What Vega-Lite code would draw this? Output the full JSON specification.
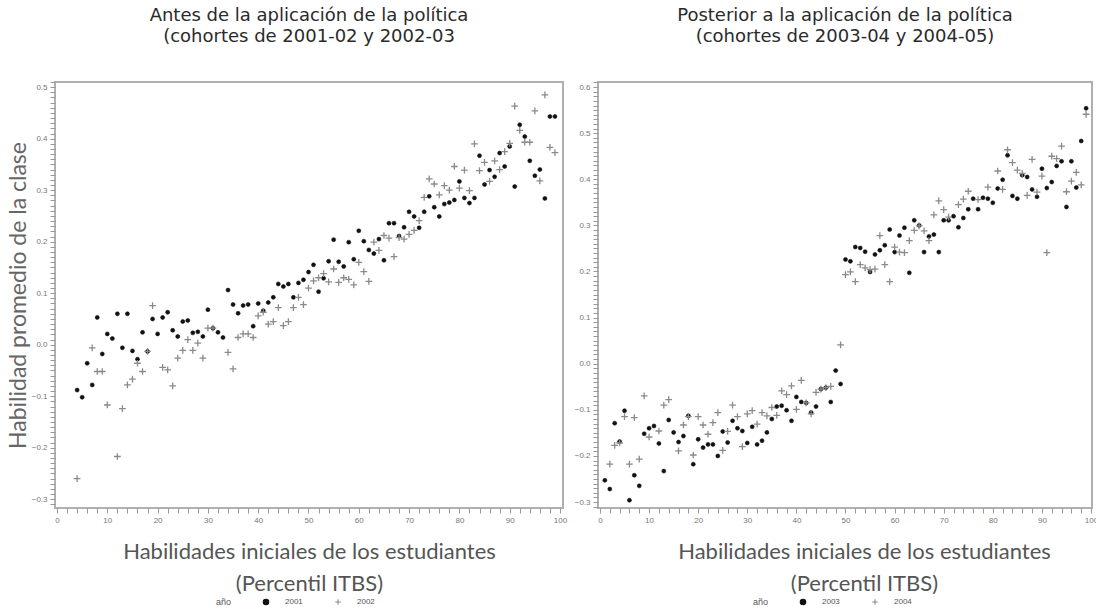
{
  "$schema": "https://vega.github.io/schema/vega-lite/v6.json",
  "background": "white",
  "padding": {"left": 6, "right": 2, "top": 6, "bottom": 0},
  "spacing": 5,
  "config": {
    "view": {"stroke": "#b0b0b0", "strokeWidth": 2},
    "axis": {
      "domain": false, "grid": false,
      "tickColor": "#999", "tickSize": 5, "tickWidth": 1,
      "labelFont": "Liberation Sans", "labelFontSize": 8, "labelColor": "#777",
      "labelPadding": 3, "labelOverlap": false, "labelFlush": false, "labelBound": false,
      "titleFont": "Lato", "titleFontWeight": "normal", "titleColor": "#555"
    },
    "legend": {
      "labelFont": "Liberation Sans", "labelFontSize": 8, "labelColor": "#555",
      "titleFont": "Liberation Sans", "titleFontSize": 9, "titleFontWeight": "normal", "titleColor": "#555"
    },
    "title": {"font": "DejaVu Sans", "fontSize": 18, "fontWeight": "normal", "color": "#2a2a2a", "lineHeight": 21, "offset": 32}
  },
  "datasets": {
    "antes": [
      {"pct":4,"hab":-0.088,"anio":"2001"},{"pct":5,"hab":-0.102,"anio":"2001"},{"pct":6,"hab":-0.036,"anio":"2001"},{"pct":7,"hab":-0.078,"anio":"2001"},{"pct":8,"hab":0.053,"anio":"2001"},{"pct":9,"hab":-0.018,"anio":"2001"},{"pct":10,"hab":0.021,"anio":"2001"},{"pct":11,"hab":0.012,"anio":"2001"},{"pct":12,"hab":0.060,"anio":"2001"},{"pct":13,"hab":-0.006,"anio":"2001"},{"pct":14,"hab":0.060,"anio":"2001"},{"pct":15,"hab":-0.012,"anio":"2001"},{"pct":16,"hab":-0.028,"anio":"2001"},{"pct":17,"hab":0.024,"anio":"2001"},{"pct":18,"hab":-0.013,"anio":"2001"},{"pct":19,"hab":0.050,"anio":"2001"},{"pct":20,"hab":0.021,"anio":"2001"},{"pct":21,"hab":0.053,"anio":"2001"},{"pct":22,"hab":0.063,"anio":"2001"},{"pct":23,"hab":0.028,"anio":"2001"},{"pct":24,"hab":0.016,"anio":"2001"},{"pct":25,"hab":0.045,"anio":"2001"},{"pct":26,"hab":0.047,"anio":"2001"},{"pct":27,"hab":0.023,"anio":"2001"},{"pct":28,"hab":0.025,"anio":"2001"},{"pct":29,"hab":0.016,"anio":"2001"},{"pct":30,"hab":0.068,"anio":"2001"},{"pct":31,"hab":0.032,"anio":"2001"},{"pct":32,"hab":0.024,"anio":"2001"},{"pct":33,"hab":0.014,"anio":"2001"},{"pct":34,"hab":0.106,"anio":"2001"},{"pct":35,"hab":0.078,"anio":"2001"},{"pct":36,"hab":0.061,"anio":"2001"},{"pct":37,"hab":0.076,"anio":"2001"},{"pct":38,"hab":0.078,"anio":"2001"},{"pct":39,"hab":0.036,"anio":"2001"},{"pct":40,"hab":0.080,"anio":"2001"},{"pct":41,"hab":0.066,"anio":"2001"},{"pct":42,"hab":0.082,"anio":"2001"},{"pct":43,"hab":0.092,"anio":"2001"},{"pct":44,"hab":0.118,"anio":"2001"},{"pct":45,"hab":0.113,"anio":"2001"},{"pct":46,"hab":0.118,"anio":"2001"},{"pct":47,"hab":0.092,"anio":"2001"},{"pct":48,"hab":0.120,"anio":"2001"},{"pct":49,"hab":0.126,"anio":"2001"},{"pct":50,"hab":0.141,"anio":"2001"},{"pct":51,"hab":0.155,"anio":"2001"},{"pct":52,"hab":0.103,"anio":"2001"},{"pct":53,"hab":0.129,"anio":"2001"},{"pct":54,"hab":0.162,"anio":"2001"},{"pct":55,"hab":0.204,"anio":"2001"},{"pct":56,"hab":0.161,"anio":"2001"},{"pct":57,"hab":0.152,"anio":"2001"},{"pct":58,"hab":0.199,"anio":"2001"},{"pct":59,"hab":0.166,"anio":"2001"},{"pct":60,"hab":0.221,"anio":"2001"},{"pct":61,"hab":0.201,"anio":"2001"},{"pct":62,"hab":0.184,"anio":"2001"},{"pct":63,"hab":0.177,"anio":"2001"},{"pct":64,"hab":0.205,"anio":"2001"},{"pct":65,"hab":0.164,"anio":"2001"},{"pct":66,"hab":0.236,"anio":"2001"},{"pct":67,"hab":0.236,"anio":"2001"},{"pct":68,"hab":0.211,"anio":"2001"},{"pct":69,"hab":0.228,"anio":"2001"},{"pct":70,"hab":0.258,"anio":"2001"},{"pct":71,"hab":0.249,"anio":"2001"},{"pct":72,"hab":0.227,"anio":"2001"},{"pct":73,"hab":0.258,"anio":"2001"},{"pct":74,"hab":0.288,"anio":"2001"},{"pct":75,"hab":0.267,"anio":"2001"},{"pct":76,"hab":0.249,"anio":"2001"},{"pct":77,"hab":0.273,"anio":"2001"},{"pct":78,"hab":0.276,"anio":"2001"},{"pct":79,"hab":0.281,"anio":"2001"},{"pct":80,"hab":0.317,"anio":"2001"},{"pct":81,"hab":0.285,"anio":"2001"},{"pct":82,"hab":0.275,"anio":"2001"},{"pct":83,"hab":0.285,"anio":"2001"},{"pct":84,"hab":0.367,"anio":"2001"},{"pct":85,"hab":0.311,"anio":"2001"},{"pct":86,"hab":0.339,"anio":"2001"},{"pct":87,"hab":0.326,"anio":"2001"},{"pct":88,"hab":0.372,"anio":"2001"},{"pct":89,"hab":0.346,"anio":"2001"},{"pct":90,"hab":0.385,"anio":"2001"},{"pct":91,"hab":0.307,"anio":"2001"},{"pct":92,"hab":0.427,"anio":"2001"},{"pct":93,"hab":0.404,"anio":"2001"},{"pct":94,"hab":0.357,"anio":"2001"},{"pct":95,"hab":0.328,"anio":"2001"},{"pct":96,"hab":0.340,"anio":"2001"},{"pct":97,"hab":0.284,"anio":"2001"},{"pct":98,"hab":0.443,"anio":"2001"},{"pct":99,"hab":0.443,"anio":"2001"},
      {"pct":4,"hab":-0.260,"anio":"2002"},{"pct":7,"hab":-0.006,"anio":"2002"},{"pct":8,"hab":-0.052,"anio":"2002"},{"pct":9,"hab":-0.052,"anio":"2002"},{"pct":10,"hab":-0.117,"anio":"2002"},{"pct":12,"hab":-0.217,"anio":"2002"},{"pct":13,"hab":-0.124,"anio":"2002"},{"pct":14,"hab":-0.078,"anio":"2002"},{"pct":15,"hab":-0.067,"anio":"2002"},{"pct":16,"hab":-0.036,"anio":"2002"},{"pct":17,"hab":-0.052,"anio":"2002"},{"pct":18,"hab":-0.013,"anio":"2002"},{"pct":19,"hab":0.076,"anio":"2002"},{"pct":21,"hab":-0.044,"anio":"2002"},{"pct":22,"hab":-0.049,"anio":"2002"},{"pct":23,"hab":-0.080,"anio":"2002"},{"pct":24,"hab":-0.026,"anio":"2002"},{"pct":25,"hab":-0.011,"anio":"2002"},{"pct":26,"hab":0.010,"anio":"2002"},{"pct":27,"hab":-0.011,"anio":"2002"},{"pct":28,"hab":0.003,"anio":"2002"},{"pct":29,"hab":-0.026,"anio":"2002"},{"pct":30,"hab":0.032,"anio":"2002"},{"pct":31,"hab":0.032,"anio":"2002"},{"pct":34,"hab":-0.015,"anio":"2002"},{"pct":35,"hab":-0.047,"anio":"2002"},{"pct":36,"hab":0.014,"anio":"2002"},{"pct":37,"hab":0.021,"anio":"2002"},{"pct":38,"hab":0.021,"anio":"2002"},{"pct":39,"hab":0.014,"anio":"2002"},{"pct":40,"hab":0.056,"anio":"2002"},{"pct":41,"hab":0.063,"anio":"2002"},{"pct":42,"hab":0.040,"anio":"2002"},{"pct":43,"hab":0.045,"anio":"2002"},{"pct":44,"hab":0.072,"anio":"2002"},{"pct":45,"hab":0.037,"anio":"2002"},{"pct":46,"hab":0.045,"anio":"2002"},{"pct":47,"hab":0.072,"anio":"2002"},{"pct":48,"hab":0.092,"anio":"2002"},{"pct":49,"hab":0.078,"anio":"2002"},{"pct":50,"hab":0.110,"anio":"2002"},{"pct":51,"hab":0.124,"anio":"2002"},{"pct":52,"hab":0.130,"anio":"2002"},{"pct":53,"hab":0.138,"anio":"2002"},{"pct":54,"hab":0.122,"anio":"2002"},{"pct":55,"hab":0.147,"anio":"2002"},{"pct":56,"hab":0.121,"anio":"2002"},{"pct":57,"hab":0.130,"anio":"2002"},{"pct":58,"hab":0.127,"anio":"2002"},{"pct":59,"hab":0.116,"anio":"2002"},{"pct":60,"hab":0.160,"anio":"2002"},{"pct":61,"hab":0.142,"anio":"2002"},{"pct":62,"hab":0.123,"anio":"2002"},{"pct":63,"hab":0.199,"anio":"2002"},{"pct":64,"hab":0.183,"anio":"2002"},{"pct":65,"hab":0.212,"anio":"2002"},{"pct":66,"hab":0.207,"anio":"2002"},{"pct":67,"hab":0.171,"anio":"2002"},{"pct":68,"hab":0.208,"anio":"2002"},{"pct":69,"hab":0.205,"anio":"2002"},{"pct":70,"hab":0.214,"anio":"2002"},{"pct":71,"hab":0.222,"anio":"2002"},{"pct":72,"hab":0.241,"anio":"2002"},{"pct":73,"hab":0.286,"anio":"2002"},{"pct":74,"hab":0.322,"anio":"2002"},{"pct":75,"hab":0.312,"anio":"2002"},{"pct":76,"hab":0.291,"anio":"2002"},{"pct":77,"hab":0.309,"anio":"2002"},{"pct":78,"hab":0.300,"anio":"2002"},{"pct":79,"hab":0.346,"anio":"2002"},{"pct":80,"hab":0.304,"anio":"2002"},{"pct":81,"hab":0.339,"anio":"2002"},{"pct":82,"hab":0.299,"anio":"2002"},{"pct":83,"hab":0.390,"anio":"2002"},{"pct":84,"hab":0.338,"anio":"2002"},{"pct":85,"hab":0.354,"anio":"2002"},{"pct":86,"hab":0.317,"anio":"2002"},{"pct":87,"hab":0.357,"anio":"2002"},{"pct":88,"hab":0.340,"anio":"2002"},{"pct":89,"hab":0.375,"anio":"2002"},{"pct":90,"hab":0.391,"anio":"2002"},{"pct":91,"hab":0.463,"anio":"2002"},{"pct":92,"hab":0.416,"anio":"2002"},{"pct":93,"hab":0.393,"anio":"2002"},{"pct":94,"hab":0.393,"anio":"2002"},{"pct":95,"hab":0.454,"anio":"2002"},{"pct":96,"hab":0.318,"anio":"2002"},{"pct":97,"hab":0.485,"anio":"2002"},{"pct":98,"hab":0.383,"anio":"2002"},{"pct":99,"hab":0.373,"anio":"2002"}
    ],
    "despues": [
      {"pct":1,"hab":-0.253,"anio":"2003"},{"pct":2,"hab":-0.272,"anio":"2003"},{"pct":3,"hab":-0.129,"anio":"2003"},{"pct":4,"hab":-0.169,"anio":"2003"},{"pct":5,"hab":-0.102,"anio":"2003"},{"pct":6,"hab":-0.296,"anio":"2003"},{"pct":7,"hab":-0.242,"anio":"2003"},{"pct":8,"hab":-0.265,"anio":"2003"},{"pct":9,"hab":-0.152,"anio":"2003"},{"pct":10,"hab":-0.140,"anio":"2003"},{"pct":11,"hab":-0.135,"anio":"2003"},{"pct":12,"hab":-0.173,"anio":"2003"},{"pct":13,"hab":-0.233,"anio":"2003"},{"pct":14,"hab":-0.122,"anio":"2003"},{"pct":15,"hab":-0.149,"anio":"2003"},{"pct":16,"hab":-0.170,"anio":"2003"},{"pct":17,"hab":-0.157,"anio":"2003"},{"pct":18,"hab":-0.113,"anio":"2003"},{"pct":19,"hab":-0.218,"anio":"2003"},{"pct":20,"hab":-0.164,"anio":"2003"},{"pct":21,"hab":-0.182,"anio":"2003"},{"pct":22,"hab":-0.175,"anio":"2003"},{"pct":23,"hab":-0.175,"anio":"2003"},{"pct":24,"hab":-0.200,"anio":"2003"},{"pct":25,"hab":-0.147,"anio":"2003"},{"pct":26,"hab":-0.171,"anio":"2003"},{"pct":27,"hab":-0.124,"anio":"2003"},{"pct":28,"hab":-0.140,"anio":"2003"},{"pct":29,"hab":-0.146,"anio":"2003"},{"pct":30,"hab":-0.172,"anio":"2003"},{"pct":31,"hab":-0.137,"anio":"2003"},{"pct":32,"hab":-0.175,"anio":"2003"},{"pct":33,"hab":-0.167,"anio":"2003"},{"pct":34,"hab":-0.149,"anio":"2003"},{"pct":35,"hab":-0.120,"anio":"2003"},{"pct":36,"hab":-0.093,"anio":"2003"},{"pct":37,"hab":-0.091,"anio":"2003"},{"pct":38,"hab":-0.101,"anio":"2003"},{"pct":39,"hab":-0.124,"anio":"2003"},{"pct":40,"hab":-0.072,"anio":"2003"},{"pct":41,"hab":-0.083,"anio":"2003"},{"pct":42,"hab":-0.085,"anio":"2003"},{"pct":43,"hab":-0.106,"anio":"2003"},{"pct":44,"hab":-0.093,"anio":"2003"},{"pct":45,"hab":-0.055,"anio":"2003"},{"pct":46,"hab":-0.052,"anio":"2003"},{"pct":47,"hab":-0.083,"anio":"2003"},{"pct":48,"hab":-0.015,"anio":"2003"},{"pct":49,"hab":-0.044,"anio":"2003"},{"pct":50,"hab":0.226,"anio":"2003"},{"pct":51,"hab":0.222,"anio":"2003"},{"pct":52,"hab":0.253,"anio":"2003"},{"pct":53,"hab":0.251,"anio":"2003"},{"pct":54,"hab":0.243,"anio":"2003"},{"pct":55,"hab":0.199,"anio":"2003"},{"pct":56,"hab":0.237,"anio":"2003"},{"pct":57,"hab":0.246,"anio":"2003"},{"pct":58,"hab":0.257,"anio":"2003"},{"pct":59,"hab":0.291,"anio":"2003"},{"pct":60,"hab":0.242,"anio":"2003"},{"pct":61,"hab":0.278,"anio":"2003"},{"pct":62,"hab":0.295,"anio":"2003"},{"pct":63,"hab":0.197,"anio":"2003"},{"pct":64,"hab":0.311,"anio":"2003"},{"pct":65,"hab":0.300,"anio":"2003"},{"pct":66,"hab":0.242,"anio":"2003"},{"pct":67,"hab":0.276,"anio":"2003"},{"pct":68,"hab":0.280,"anio":"2003"},{"pct":69,"hab":0.242,"anio":"2003"},{"pct":70,"hab":0.311,"anio":"2003"},{"pct":71,"hab":0.311,"anio":"2003"},{"pct":72,"hab":0.320,"anio":"2003"},{"pct":73,"hab":0.296,"anio":"2003"},{"pct":74,"hab":0.316,"anio":"2003"},{"pct":75,"hab":0.335,"anio":"2003"},{"pct":76,"hab":0.358,"anio":"2003"},{"pct":77,"hab":0.335,"anio":"2003"},{"pct":78,"hab":0.360,"anio":"2003"},{"pct":79,"hab":0.358,"anio":"2003"},{"pct":80,"hab":0.349,"anio":"2003"},{"pct":81,"hab":0.380,"anio":"2003"},{"pct":82,"hab":0.399,"anio":"2003"},{"pct":83,"hab":0.452,"anio":"2003"},{"pct":84,"hab":0.364,"anio":"2003"},{"pct":85,"hab":0.358,"anio":"2003"},{"pct":86,"hab":0.409,"anio":"2003"},{"pct":87,"hab":0.405,"anio":"2003"},{"pct":88,"hab":0.378,"anio":"2003"},{"pct":89,"hab":0.362,"anio":"2003"},{"pct":90,"hab":0.423,"anio":"2003"},{"pct":91,"hab":0.381,"anio":"2003"},{"pct":92,"hab":0.394,"anio":"2003"},{"pct":93,"hab":0.429,"anio":"2003"},{"pct":94,"hab":0.439,"anio":"2003"},{"pct":95,"hab":0.340,"anio":"2003"},{"pct":96,"hab":0.439,"anio":"2003"},{"pct":97,"hab":0.382,"anio":"2003"},{"pct":98,"hab":0.483,"anio":"2003"},{"pct":99,"hab":0.554,"anio":"2003"},
      {"pct":2,"hab":-0.218,"anio":"2004"},{"pct":3,"hab":-0.177,"anio":"2004"},{"pct":4,"hab":-0.172,"anio":"2004"},{"pct":5,"hab":-0.115,"anio":"2004"},{"pct":6,"hab":-0.218,"anio":"2004"},{"pct":7,"hab":-0.117,"anio":"2004"},{"pct":8,"hab":-0.207,"anio":"2004"},{"pct":9,"hab":-0.070,"anio":"2004"},{"pct":10,"hab":-0.159,"anio":"2004"},{"pct":12,"hab":-0.146,"anio":"2004"},{"pct":13,"hab":-0.090,"anio":"2004"},{"pct":14,"hab":-0.078,"anio":"2004"},{"pct":16,"hab":-0.189,"anio":"2004"},{"pct":17,"hab":-0.133,"anio":"2004"},{"pct":18,"hab":-0.115,"anio":"2004"},{"pct":19,"hab":-0.198,"anio":"2004"},{"pct":20,"hab":-0.115,"anio":"2004"},{"pct":21,"hab":-0.133,"anio":"2004"},{"pct":22,"hab":-0.153,"anio":"2004"},{"pct":23,"hab":-0.128,"anio":"2004"},{"pct":24,"hab":-0.106,"anio":"2004"},{"pct":25,"hab":-0.188,"anio":"2004"},{"pct":26,"hab":-0.147,"anio":"2004"},{"pct":27,"hab":-0.090,"anio":"2004"},{"pct":28,"hab":-0.115,"anio":"2004"},{"pct":29,"hab":-0.180,"anio":"2004"},{"pct":30,"hab":-0.109,"anio":"2004"},{"pct":31,"hab":-0.102,"anio":"2004"},{"pct":32,"hab":-0.131,"anio":"2004"},{"pct":33,"hab":-0.106,"anio":"2004"},{"pct":34,"hab":-0.113,"anio":"2004"},{"pct":35,"hab":-0.095,"anio":"2004"},{"pct":36,"hab":-0.112,"anio":"2004"},{"pct":37,"hab":-0.059,"anio":"2004"},{"pct":38,"hab":-0.067,"anio":"2004"},{"pct":39,"hab":-0.048,"anio":"2004"},{"pct":40,"hab":-0.099,"anio":"2004"},{"pct":41,"hab":-0.036,"anio":"2004"},{"pct":42,"hab":-0.085,"anio":"2004"},{"pct":43,"hab":-0.109,"anio":"2004"},{"pct":44,"hab":-0.062,"anio":"2004"},{"pct":45,"hab":-0.055,"anio":"2004"},{"pct":46,"hab":-0.052,"anio":"2004"},{"pct":47,"hab":-0.049,"anio":"2004"},{"pct":49,"hab":0.041,"anio":"2004"},{"pct":50,"hab":0.193,"anio":"2004"},{"pct":51,"hab":0.199,"anio":"2004"},{"pct":52,"hab":0.178,"anio":"2004"},{"pct":53,"hab":0.215,"anio":"2004"},{"pct":54,"hab":0.208,"anio":"2004"},{"pct":55,"hab":0.204,"anio":"2004"},{"pct":56,"hab":0.205,"anio":"2004"},{"pct":57,"hab":0.278,"anio":"2004"},{"pct":58,"hab":0.215,"anio":"2004"},{"pct":59,"hab":0.178,"anio":"2004"},{"pct":60,"hab":0.253,"anio":"2004"},{"pct":61,"hab":0.242,"anio":"2004"},{"pct":62,"hab":0.241,"anio":"2004"},{"pct":63,"hab":0.267,"anio":"2004"},{"pct":64,"hab":0.289,"anio":"2004"},{"pct":65,"hab":0.299,"anio":"2004"},{"pct":66,"hab":0.288,"anio":"2004"},{"pct":67,"hab":0.267,"anio":"2004"},{"pct":68,"hab":0.323,"anio":"2004"},{"pct":69,"hab":0.353,"anio":"2004"},{"pct":70,"hab":0.334,"anio":"2004"},{"pct":71,"hab":0.318,"anio":"2004"},{"pct":73,"hab":0.345,"anio":"2004"},{"pct":74,"hab":0.357,"anio":"2004"},{"pct":75,"hab":0.374,"anio":"2004"},{"pct":77,"hab":0.356,"anio":"2004"},{"pct":79,"hab":0.383,"anio":"2004"},{"pct":81,"hab":0.418,"anio":"2004"},{"pct":82,"hab":0.378,"anio":"2004"},{"pct":83,"hab":0.464,"anio":"2004"},{"pct":84,"hab":0.436,"anio":"2004"},{"pct":85,"hab":0.420,"anio":"2004"},{"pct":86,"hab":0.413,"anio":"2004"},{"pct":87,"hab":0.365,"anio":"2004"},{"pct":88,"hab":0.443,"anio":"2004"},{"pct":89,"hab":0.372,"anio":"2004"},{"pct":90,"hab":0.407,"anio":"2004"},{"pct":91,"hab":0.241,"anio":"2004"},{"pct":92,"hab":0.450,"anio":"2004"},{"pct":93,"hab":0.445,"anio":"2004"},{"pct":94,"hab":0.472,"anio":"2004"},{"pct":95,"hab":0.373,"anio":"2004"},{"pct":96,"hab":0.396,"anio":"2004"},{"pct":97,"hab":0.415,"anio":"2004"},{"pct":98,"hab":0.388,"anio":"2004"},{"pct":99,"hab":0.541,"anio":"2004"}
    ]
  },
  "resolve": {
    "scale": {"fill": "independent", "stroke": "independent", "shape": "independent", "x": "independent", "y": "independent"},
    "legend": {"fill": "independent", "stroke": "independent", "shape": "independent"}
  },
  "hconcat": [
    {
      "width": 508, "height": 426,
      "title": {"text": ["Antes de la aplicación de la política", "(cohortes de 2001-02 y 2002-03"]},
      "data": {"name": "antes"},
      "mark": {"type": "point", "opacity": 1},
      "encoding": {
        "x": {"field": "pct", "type": "quantitative",
          "scale": {"domain": [-0.4, 100.6], "nice": false, "zero": false},
          "axis": {"title": ["Habilidades iniciales de los estudiantes", "(Percentil ITBS)"],
            "titleFontSize": 22, "titleLineHeight": 32, "titlePadding": 17,
            "tickCount": 50,
            "labelExpr": "round(datum.value) % 10 == 0 ? format(datum.value, 'd') : ''",
            "encode": {"ticks": {"y2": {"condition": {"test": "round(datum.value) % 10 == 0", "value": 5}, "value": 3}}}}},
        "y": {"field": "hab", "type": "quantitative",
          "scale": {"domain": [-0.317, 0.51], "nice": false, "zero": false},
          "axis": {"title": "Habilidad promedio de la clase", "titleFontSize": 23, "titleColor": "#666", "titlePadding": 1,
            "tickCount": 80,
            "labelExpr": "round(datum.value*100) % 10 == 0 ? format(datum.value, '.1f') : ''",
            "encode": {"ticks": {"x2": {"condition": {"test": "round(datum.value*100) % 10 == 0", "value": -5}, "value": -3}}}}},
        "shape": {"field": "anio", "type": "nominal", "scale": {"domain": ["2001", "2002"], "range": ["circle", "M-1,0H1M0,-1V1"]},
          "legend": {"orient": "none", "legendX": 161, "legendY": 516, "direction": "horizontal", "title": "año", "titleOrient": "left",
            "titlePadding": 30, "symbolSize": 30, "labelOffset": 15, "columnPadding": 30, "symbolStrokeWidth": 1.1}},
        "fill": {"field": "anio", "type": "nominal", "scale": {"domain": ["2001", "2002"], "range": ["#111111", "transparent"]},
          "legend": {"orient": "none", "legendX": 161, "legendY": 516, "direction": "horizontal", "title": "año", "titleOrient": "left",
            "titlePadding": 30, "symbolSize": 30, "labelOffset": 15, "columnPadding": 30, "symbolStrokeWidth": 1.1}},
        "stroke": {"field": "anio", "type": "nominal", "scale": {"domain": ["2001", "2002"], "range": ["#111111", "#8a8a8a"]},
          "legend": {"orient": "none", "legendX": 161, "legendY": 516, "direction": "horizontal", "title": "año", "titleOrient": "left",
            "titlePadding": 30, "symbolSize": 30, "labelOffset": 15, "columnPadding": 30, "symbolStrokeWidth": 1.1}},
        "size": {"condition": {"test": "datum.anio == '2001'", "value": 16}, "value": 45},
        "strokeWidth": {"condition": {"test": "datum.anio == '2001'", "value": 0.6}, "value": 1.3}
      }
    },
    {
      "width": 494, "height": 426,
      "title": {"text": ["Posterior a la aplicación de la política", "(cohortes de 2003-04 y 2004-05)"]},
      "data": {"name": "despues"},
      "mark": {"type": "point", "opacity": 1},
      "encoding": {
        "x": {"field": "pct", "type": "quantitative",
          "scale": {"domain": [-0.4, 100.2], "nice": false, "zero": false},
          "axis": {"title": ["Habilidades iniciales de los estudiantes", "(Percentil ITBS)"],
            "titleFontSize": 22, "titleLineHeight": 32, "titlePadding": 17, "titleX": 266, "titleAlign": "center",
            "tickCount": 50,
            "labelExpr": "round(datum.value) % 10 == 0 ? format(datum.value, 'd') : ''",
            "encode": {"ticks": {"y2": {"condition": {"test": "round(datum.value) % 10 == 0", "value": 5}, "value": 3}}}}},
        "y": {"field": "hab", "type": "quantitative",
          "scale": {"domain": [-0.313, 0.611], "nice": false, "zero": false},
          "axis": {"title": null,
            "tickCount": 90,
            "labelExpr": "round(datum.value*100) % 10 == 0 ? format(datum.value, '.1f') : ''",
            "encode": {"ticks": {"x2": {"condition": {"test": "round(datum.value*100) % 10 == 0", "value": -5}, "value": -3}}}}},
        "shape": {"field": "anio", "type": "nominal", "scale": {"domain": ["2003", "2004"], "range": ["circle", "M-1,0H1M0,-1V1"]},
          "legend": {"orient": "none", "legendX": 155, "legendY": 516, "direction": "horizontal", "title": "año", "titleOrient": "left",
            "titlePadding": 30, "symbolSize": 30, "labelOffset": 15, "columnPadding": 30, "symbolStrokeWidth": 1.1}},
        "fill": {"field": "anio", "type": "nominal", "scale": {"domain": ["2003", "2004"], "range": ["#111111", "transparent"]},
          "legend": {"orient": "none", "legendX": 155, "legendY": 516, "direction": "horizontal", "title": "año", "titleOrient": "left",
            "titlePadding": 30, "symbolSize": 30, "labelOffset": 15, "columnPadding": 30, "symbolStrokeWidth": 1.1}},
        "stroke": {"field": "anio", "type": "nominal", "scale": {"domain": ["2003", "2004"], "range": ["#111111", "#8a8a8a"]},
          "legend": {"orient": "none", "legendX": 155, "legendY": 516, "direction": "horizontal", "title": "año", "titleOrient": "left",
            "titlePadding": 30, "symbolSize": 30, "labelOffset": 15, "columnPadding": 30, "symbolStrokeWidth": 1.1}},
        "size": {"condition": {"test": "datum.anio == '2003'", "value": 16}, "value": 45},
        "strokeWidth": {"condition": {"test": "datum.anio == '2003'", "value": 0.6}, "value": 1.3}
      }
    }
  ]
}
